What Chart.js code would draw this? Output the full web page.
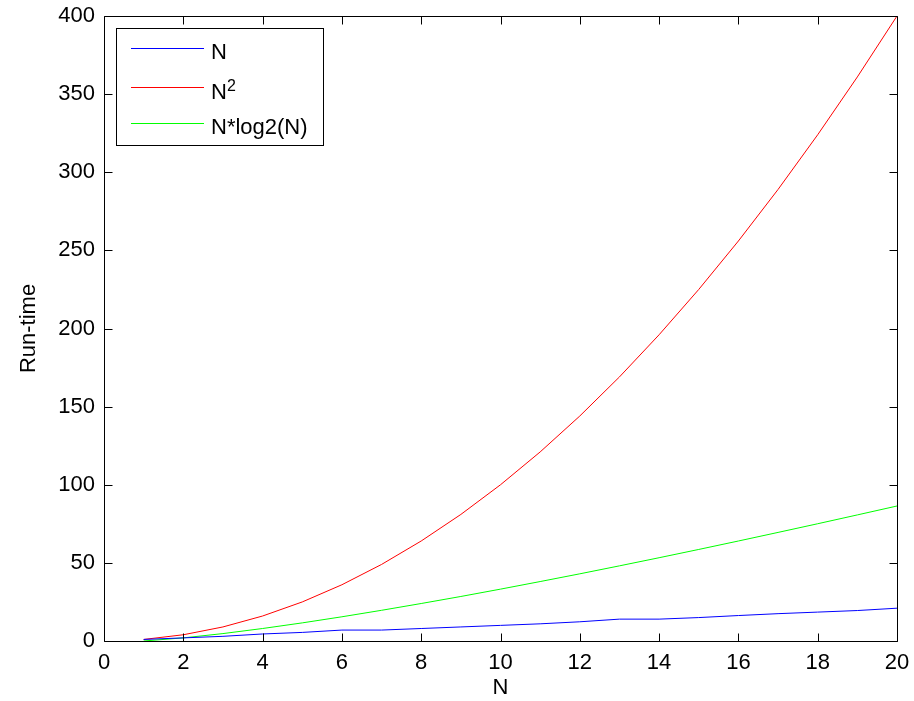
<!DOCTYPE html>
<html>
<head>
<meta charset="utf-8">
<script src="https://cdn.jsdelivr.net/npm/chart.js@4/dist/chart.umd.min.js"></script>
<style>
  html, body { margin: 0; padding: 0; background: #fff; }
  #wrap { width: 914px; height: 701px; }
</style>
</head>
<body>
<div id="wrap"><canvas id="c" width="914" height="701"></canvas></div>
<script>
// ---- data ----
const nValues = [1, 2, 3, 4, 5, 6, 7, 8, 9, 10, 11, 12, 13, 14, 15, 16, 17, 18, 19, 20];
const linearRun = [1, 2, 3, 4.5, 5.5, 7, 7, 8, 9, 10, 11, 12.3, 14, 14, 15, 16.3, 17.5, 18.5, 19.5, 21];
const squareRun = [1, 4, 9, 16, 25, 36, 49, 64, 81, 100, 121, 144, 169, 196, 225, 256, 289, 324, 361, 400];
const nlognRun = [0, 2, 4.75, 8, 11.6, 15.5, 19.65, 24, 28.5, 33.2, 38.05, 43.0, 48.1, 53.3, 58.6, 64, 69.5, 75.05, 80.7, 86.4];
const seriesLabels = ['N', 'N^2', 'N*log2(N)'];
const seriesColors = ['#0000ff', '#ff0000', '#00ff00'];
const xTitle = 'N';
const yTitle = 'Run-time';

const FONT = 'Arial, "Liberation Sans", Helvetica, sans-serif';

function pts(ys) { return nValues.map((x, i) => ({ x: x, y: ys[i] })); }
function noPad(s) { s.paddingLeft = 0; s.paddingRight = 0; s.paddingTop = 0; s.paddingBottom = 0; }

const boxPlugin = {
  id: 'matlabBox',
  afterDraw(chart) {
    const ctx = chart.ctx;
    const a = chart.chartArea;
    const xs = chart.scales.x, ys = chart.scales.y;
    const L = Math.round(a.left) + 0.5, R = Math.round(a.right) + 0.5;
    const T = Math.round(a.top) + 0.5, B = Math.round(a.bottom) + 0.5;
    ctx.save();
    ctx.strokeStyle = '#000';
    ctx.lineWidth = 1;
    ctx.beginPath();
    ctx.rect(L, T, R - L, B - T);
    ctx.stroke();
    const tl = 8;
    ctx.beginPath();
    xs.ticks.forEach(t => {
      const px = Math.round(xs.getPixelForValue(t.value)) + 0.5;
      ctx.moveTo(px, B); ctx.lineTo(px, B - tl);
      ctx.moveTo(px, T); ctx.lineTo(px, T + tl);
    });
    ys.ticks.forEach(t => {
      const py = Math.round(ys.getPixelForValue(t.value)) + 0.5;
      ctx.moveTo(L, py); ctx.lineTo(L + tl, py);
      ctx.moveTo(R, py); ctx.lineTo(R - tl, py);
    });
    ctx.stroke();

    // legend
    const lx = 116.5, ly = 28.5, lw = 207, lh = 117;
    ctx.fillStyle = '#fff';
    ctx.fillRect(lx, ly, lw, lh);
    ctx.strokeStyle = '#000';
    ctx.strokeRect(lx, ly, lw, lh);
    const lineYs = [48.5, 87.5, 123.5];
    const baseYs = [59, 99, 134];
    chart.data.datasets.forEach((ds, i) => {
      ctx.strokeStyle = ds.borderColor;
      ctx.lineWidth = 1;
      ctx.beginPath();
      ctx.moveTo(131, lineYs[i]); ctx.lineTo(204, lineYs[i]);
      ctx.stroke();
      ctx.fillStyle = '#000';
      ctx.textAlign = 'left';
      ctx.textBaseline = 'alphabetic';
      const lab = ds.label;
      const k = lab.indexOf('^');
      ctx.font = '22px ' + FONT;
      if (k >= 0) {
        const base = lab.slice(0, k), sup = lab.slice(k + 1);
        ctx.fillText(base, 211, baseYs[i]);
        const w = ctx.measureText(base).width;
        ctx.font = '16px ' + FONT;
        ctx.fillText(sup, 211 + w, baseYs[i] - 8);
      } else {
        ctx.fillText(lab, 211, baseYs[i]);
      }
    });
    ctx.restore();
  }
};

new Chart(document.getElementById('c'), {
  type: 'line',
  data: {
    datasets: [
      { label: seriesLabels[0], data: pts(linearRun), borderColor: seriesColors[0] },
      { label: seriesLabels[1], data: pts(squareRun), borderColor: seriesColors[1] },
      { label: seriesLabels[2], data: pts(nlognRun), borderColor: seriesColors[2] }
    ]
  },
  options: {
    responsive: false,
    animation: false,
    events: [],
    layout: { padding: { left: 0, top: 16, right: 17, bottom: 0 } },
    elements: {
      line: { borderWidth: 1, tension: 0, fill: false },
      point: { radius: 0 }
    },
    plugins: { legend: { display: false }, tooltip: { enabled: false } },
    scales: {
      x: {
        type: 'linear', min: 0, max: 20,
        ticks: { stepSize: 2, color: '#000', padding: 9, font: { family: FONT, size: 22 }, maxRotation: 0 },
        grid: { display: true, drawOnChartArea: false, drawTicks: false, color: 'rgba(0,0,0,0)' },
        border: { display: false },
        title: { display: true, text: xTitle, color: '#000', font: { family: FONT, size: 22 }, padding: { top: 0, bottom: 0 } },
        afterFit(s) { s.height = 60; noPad(s); }
      },
      y: {
        type: 'linear', min: 0, max: 400,
        ticks: { stepSize: 50, color: '#000', padding: 9, font: { family: FONT, size: 22 } },
        grid: { display: true, drawOnChartArea: false, drawTicks: false, color: 'rgba(0,0,0,0)' },
        border: { display: false },
        title: { display: true, text: yTitle, color: '#000', font: { family: FONT, size: 22 }, padding: { top: 16, bottom: 0 } },
        afterFit(s) { s.width = 104; noPad(s); }
      }
    }
  },
  plugins: [boxPlugin]
});
</script>
</body>
</html>
